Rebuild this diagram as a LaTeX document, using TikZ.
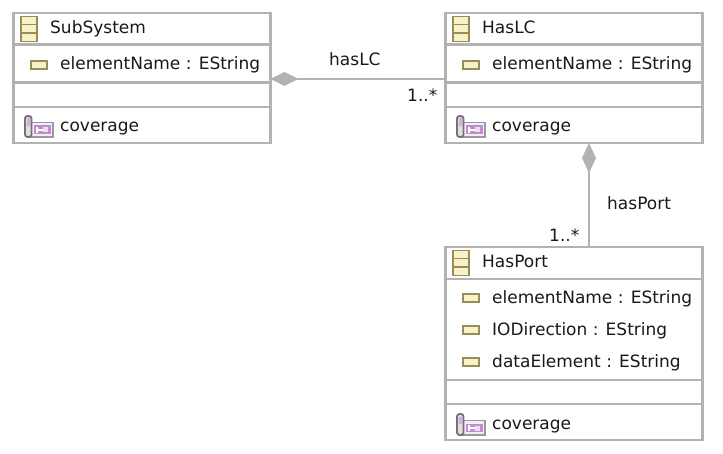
\documentclass[tikz,border=0pt]{standalone}
\usepackage{fontspec}
\setmainfont{DejaVu Sans}
\usetikzlibrary{arrows.meta}

\definecolor{boxgray}{HTML}{B2B2B2}
\definecolor{icontan}{HTML}{9C8A58}
\definecolor{iconfill}{HTML}{F6F3C8}
\definecolor{covpurple}{HTML}{C58AD6}

\tikzset{
    classbox/.style={draw=boxgray, line width=2.3pt, fill=white, inner sep=0pt, outer sep=0pt, anchor=north west},
    sepline/.style={draw=boxgray, line width=2.3pt},
    assoc/.style={draw=boxgray, line width=2.3pt},
    label/.style={inner sep=0pt, anchor=base west, font=\fontsize{17}{18}\selectfont, text=black!90},
    pics/classicon/.style={code={
        \draw[icontan, line width=1.8pt, fill=iconfill] (0,0) rectangle (16,25);
        \draw[icontan, line width=1.4pt] (0,8.3) -- (16,8.3) (0,16.6) -- (16,16.6);
    }},
    pics/attricon/.style={code={
        \draw[icontan, line width=2pt, fill=iconfill] (0,0) rectangle (16,8);
    }},
    pics/covicon/.style={code={
        \draw[black!40, line width=1.3pt, fill=black!6] (6,6.5) rectangle (28,21);
        \fill[covpurple] (9,9.5) rectangle (26,18);
        \draw[white, line width=1.2pt] (12,11) -- (12,17) (12,14) -- (20,14);
        \fill[white!70!covpurple] (18,11.5) rectangle (23,16.5);
        \draw[black!55, line width=1.8pt, fill=black!12, rounded corners=2.5pt] (0,0) rectangle (6.5,21);
        \fill[covpurple!70] (2,2.5) rectangle (4.5,10);
    }}
}

\begin{document}
\begin{tikzpicture}[x=1pt, y=-1pt]
    \useasboundingbox (0,0) rectangle (723,454);

    % Class boxes
    \node[classbox, minimum width=257pt, minimum height=130pt] (subsystem) at (13.5,13) {};
    \node[classbox, minimum width=257pt, minimum height=130pt] (haslc) at (445.5,13) {};
    \node[classbox, minimum width=257pt, minimum height=193pt] (hasport) at (445.5,247) {};

    % Compartments
    \foreach \y in {44.5,82.5,107} {
        \draw[sepline] (13.5,\y) -- (270.5,\y);
        \draw[sepline] (445.5,\y) -- (702.5,\y);
    }
    \foreach \y in {279,380,404} {
        \draw[sepline] (445.5,\y) -- (702.5,\y);
    }

    % Associations
    \draw[assoc, {Diamond[length=28pt, width=14pt, fill=boxgray]}-] ([yshift=-1pt]subsystem.east) -- ([yshift=-1pt]haslc.west);
    \draw[assoc, {Diamond[length=30pt, width=14pt, fill=boxgray]}-] ([xshift=15pt]haslc.south) -- ([xshift=15pt]hasport.north);

    % Association labels
    \node[label] (hasLCLabel) at (329,66) {hasLC};
    \node[label] (hasLCMult) at (407,102) {1..*};
    \node[label] (hasPortLabel) at (607,210) {hasPort};
    \node[label] (hasPortMult) at (549,242) {1..*};

    % Icons
    \pic at (21,16.5) {classicon};
    \pic at (453,16.5) {classicon};
    \pic at (453,250.5) {classicon};
    \pic at (31,61) {attricon};
    \pic at (463,61) {attricon};
    \pic at (463,294) {attricon};
    \pic at (463,326) {attricon};
    \pic at (463,358) {attricon};
    \pic at (25,116) {covicon};
    \pic at (457,116) {covicon};
    \pic at (457,414) {covicon};

    % SubSystem
    \node[label] (subsystemName) at (50,33.5) {SubSystem};
    \node[label] (subsystemAttr) at (60,70) {elementName : EString};
    \node[label] (subsystemCov) at (60,132) {coverage};

    % HasLC
    \node[label] (haslcName) at (482,33.5) {HasLC};
    \node[label] (haslcAttr) at (492,70) {elementName : EString};
    \node[label] (haslcCov) at (492,132) {coverage};

    % HasPort
    \node[label] (hasportName) at (482,268) {HasPort};
    \node[label] (hasportAttrA) at (492,303.5) {elementName : EString};
    \node[label] (hasportAttrB) at (492,335.5) {IODirection : EString};
    \node[label] (hasportAttrC) at (492,367.5) {dataElement : EString};
    \node[label] (hasportCov) at (492,429.5) {coverage};
\end{tikzpicture}
\end{document}
